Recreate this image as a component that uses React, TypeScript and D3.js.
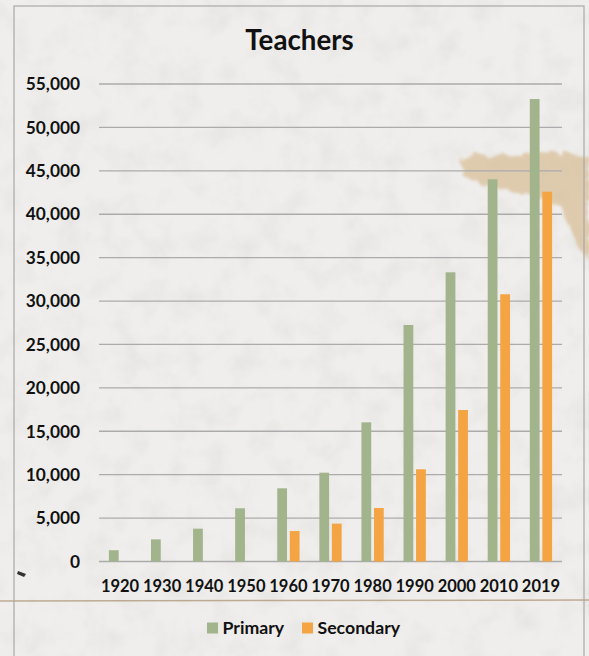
import React, { useEffect, useRef } from 'react'
import * as d3 from 'd3'

// Teachers by decade
const years = ['1920', '1930', '1940', '1950', '1960', '1970', '1980', '1990', '2000', '2010', '2019']
const primary = [1300, 2550, 3780, 6130, 8430, 10230, 16030, 27240, 33310, 44020, 53270]
const secondary = [null, null, null, null, 3510, 4360, 6160, 10620, 17450, 30780, 42600]
const seriesNames = ['Primary', 'Secondary']
const seriesColors = ['#a1b48c', '#f4a443']
const yTicks = [0, 5000, 10000, 15000, 20000, 25000, 30000, 35000, 40000, 45000, 50000, 55000]

const W = 589
const H = 656
const FONT = 'Lato, "Open Sans", sans-serif'

export default function App() {
  const svgRef = useRef<SVGSVGElement>(null)

  useEffect(() => {
    const svg = d3.select(svgRef.current)
    svg.selectAll('*').remove()

    const defs = svg.append('defs')
    const noise = defs.append('filter').attr('id', 'paper').attr('x', 0).attr('y', 0).attr('width', '100%').attr('height', '100%')
    noise.append('feTurbulence').attr('type', 'fractalNoise').attr('baseFrequency', 0.035).attr('numOctaves', 4).attr('seed', 7)
    noise.append('feColorMatrix').attr('type', 'matrix')
      .attr('values', '0 0 0 0 0.55  0 0 0 0 0.53  0 0 0 0 0.5  0 0 0 -1.6 0.9')

    // mottled stain: blur + rough edge
    const st = defs.append('filter').attr('id', 'stain').attr('x', '-20%').attr('y', '-20%').attr('width', '140%').attr('height', '140%')
    st.append('feTurbulence').attr('type', 'fractalNoise').attr('baseFrequency', 0.08).attr('numOctaves', 3).attr('seed', 3).attr('result', 'n')
    st.append('feDisplacementMap').attr('in', 'SourceGraphic').attr('in2', 'n').attr('scale', 14).attr('result', 'd')
    st.append('feGaussianBlur').attr('in', 'd').attr('stdDeviation', 1.5)

    // paper
    svg.append('rect').attr('width', W).attr('height', H).attr('fill', '#efeeec')
    svg.append('rect').attr('width', W).attr('height', H).attr('filter', 'url(#paper)').attr('opacity', 0.25)

    // coffee stain top right
    svg.append('path')
      .attr('d', 'M460,162 C470,150 500,152 520,158 C545,150 575,152 589,156 L589,262 C580,250 570,230 560,205 C545,196 525,200 508,190 C490,188 472,184 462,175 Z')
      .attr('fill', '#d4b485').attr('opacity', 0.6).attr('filter', 'url(#stain)')

    // torn edge
    svg.append('line').attr('x1', 0).attr('x2', W).attr('y1', 601).attr('y2', 600)
      .attr('stroke', '#b39a7c').attr('stroke-width', 1.5).attr('opacity', 0.8)
    svg.append('path').attr('d', 'M18,571 L26,574 L24,577 L17,574 Z').attr('fill', '#333')

    // chart frame
    svg.append('rect').attr('x', 14).attr('y', 6).attr('width', 570).attr('height', 700)
      .attr('fill', 'none').attr('stroke', '#a9a9a9').attr('stroke-width', 1.2)

    const x = d3.scaleBand().domain(years).range([99, 562]).padding(0)
    const bw = x.bandwidth()
    const xSub = d3.scaleBand().domain(seriesNames).range([bw * 0.235, bw * 0.765]).paddingInner(0.22)
    const y = d3.scaleLinear().domain([0, 55000]).range([561.5, 84])

    // grid
    svg.append('g').selectAll('line').data(yTicks).join('line')
      .attr('x1', 99).attr('x2', 562)
      .attr('y1', d => y(d)).attr('y2', d => y(d))
      .attr('stroke', '#ababab').attr('stroke-width', 1.3)

    svg.append('g').selectAll('text').data(yTicks).join('text')
      .attr('x', 80).attr('y', d => y(d)).attr('dy', '0.36em')
      .attr('text-anchor', 'end')
      .attr('font-family', FONT).attr('font-weight', 700).attr('font-size', 17.3)
      .attr('fill', '#111')
      .text(d => d3.format(',')(d))

    const rows = years.map((yr, i) => ({ yr, vals: [primary[i], secondary[i]] }))
    const groups = svg.append('g').selectAll('g').data(rows).join('g')
      .attr('transform', d => `translate(${x(d.yr)},0)`)
    groups.selectAll('rect')
      .data(d => d.vals.map((v, j) => ({ v, name: seriesNames[j], color: seriesColors[j] })).filter(e => e.v != null))
      .join('rect')
      .attr('x', e => xSub(e.name)!)
      .attr('width', xSub.bandwidth())
      .attr('y', e => y(e.v as number))
      .attr('height', e => y(0) - y(e.v as number))
      .attr('fill', e => e.color)

    svg.append('g').selectAll('text').data(years).join('text')
      .attr('x', d => x(d)! + bw / 2).attr('y', 592)
      .attr('text-anchor', 'middle')
      .attr('font-family', FONT).attr('font-weight', 700).attr('font-size', 16.5)
      .attr('fill', '#111')
      .text(d => d)

    svg.append('text').attr('x', 299.5).attr('y', 50).attr('text-anchor', 'middle')
      .attr('font-family', FONT).attr('font-weight', 700).attr('font-size', 27.7)
      .attr('fill', '#111').text('Teachers')

    // legend
    const legendX = [207, 302]
    const lg = svg.append('g').selectAll('g').data(seriesNames).join('g')
      .attr('transform', (d, i) => `translate(${legendX[i]},622.5)`)
    lg.append('rect').attr('width', 11).attr('height', 11).attr('fill', (d, i) => seriesColors[i])
    lg.append('text').attr('x', 15.5).attr('y', 11)
      .attr('font-family', FONT).attr('font-weight', 700).attr('font-size', 17.7)
      .attr('fill', '#111').text(d => d)
  }, [])

  return (
    <svg ref={svgRef} width={W} height={H} style={{ position: 'absolute', left: 0, top: 0, display: 'block' }} />
  )
}
